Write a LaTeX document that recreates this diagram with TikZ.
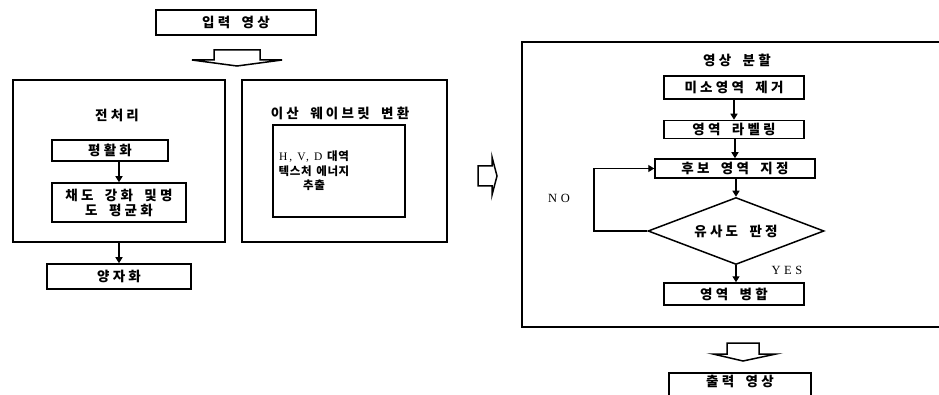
\documentclass[tikz,border=0pt]{standalone}
\usepackage{fontspec}
\setmainfont{Liberation Serif}
\newfontfamily\kr[LetterSpace=24,WordSpace=1.8]{Noto Sans CJK KR}
\newfontfamily\krs[LetterSpace=5,WordSpace=1.5]{Noto Sans CJK KR}
\newfontfamily\lat[LetterSpace=28]{Liberation Serif}
\newfontfamily\lats[LetterSpace=18]{Liberation Serif}
\usetikzlibrary{arrows.meta,shapes.geometric}
\begin{document}
\begin{tikzpicture}[x=1pt,y=-1pt,
  every node/.style={font=\kr\bfseries\fontsize{13.5}{15}\selectfont},
  box/.style={draw,line width=1.5pt,inner sep=0pt,align=center},
  frame/.style={draw,line width=1.5pt},
  link/.style={line width=1.4pt,-{Triangle[length=6pt,width=7pt]}},
  hollow/.style={draw,line width=1.5pt,line join=miter},
  latin/.style={font=\lat\fontsize{12.5}{14}\selectfont}]
\useasboundingbox (0,0) rectangle (939,395);
% input
\node[box,minimum width=160,minimum height=25] (in) at (236,22.5) {입력 영상};
\draw[hollow] (214,50) -- (260,50) -- (260,60) -- (282,60) -- (237,66) -- (192,60) -- (214,60) -- cycle;
% preprocessing
\node[box,minimum width=212,minimum height=162] (pre) at (119,161) {};
\node (pret) at (117,115) {전처리};
\node[box,minimum width=116,minimum height=21] (smooth) at (110,150.5) {평활화};
\node[box,minimum width=134,minimum height=39] (sat) at (119,202.5) {채도 강화 및명\\도 평균화};
\draw[link] (smooth.south -| sat) -- (sat.north);
\node[box,minimum width=144,minimum height=25] (quant) at (119,276.5) {양자화};
\draw[link] (pre.south -| quant) -- (quant.north);
% DWT
\node[box,minimum width=205,minimum height=162] (dwt) at (344.5,161) {};
\node (dwtt) at (340,113) {이산 웨이브릿 변환};
\node[box,minimum width=132,minimum height=92] (inner) at (339,171) {};
\node[align=center,font=\krs\bfseries\fontsize{11.5}{14.5}\selectfont] (tex) at (314,171) {{\lats\mdseries\fontsize{11.5}{14.5}\selectfont H, V, D} 대역\\텍스처 에너지\\추출};
% right hollow arrow
\draw[hollow] (478,166) -- (492,166) -- (492,157) -- (497,176) -- (492,195) -- (492,186) -- (478,186) -- cycle;
% segmentation frame (open at right)
\coordinate (segtr) at (939,42);
\coordinate (segtl) at (522,42);
\coordinate (segbl) at (522,327);
\coordinate (segbr) at (939,327);
\draw[frame] (segtr) -- (segtl) -- (segbl) -- (segbr);
\node (segt) at (737,60) {영상 분할};
\node[box,minimum width=140,minimum height=23] (small) at (734,87.5) {미소영역 제거};
\node[box,minimum width=140,minimum height=18] (label) at (734,129.5) {영역 라벨링};
\node[box,minimum width=160,minimum height=19] (cand) at (735,168.5) {후보 영역 지정};
\node[draw,line width=1.5pt,diamond,aspect=2.63,minimum width=176,minimum height=67,inner sep=0pt] (sim) at (736,231) {유사도 판정};
\node[box,minimum width=140,minimum height=22] (merge) at (734,294) {영역 병합};
\draw[link] (small.south -| label) -- (label.north);
\draw[link] (label.south -| cand) -- (cand.north);
\draw[link] (cand.south -| sim) -- (sim.north);
\draw[link] (sim.south) -- (sim.south |- merge.north);
\coordinate (loopb) at (594,231);
\coordinate (loopt) at (594,168.5);
\draw[link] (sim.west) -- (loopb) -- (loopt) -- (cand.west);
\node[latin] (no) at (559,198) {NO};
\node[latin] (yes) at (787,270) {YES};
% bottom hollow arrow
\draw[hollow] (727,343) -- (759,343) -- (759,354) -- (776,354) -- (743,361) -- (713,354) -- (727,354) -- cycle;
% output
\node[box,minimum width=142,minimum height=32] (out) at (740,389) {};
\node (outt) at (740,381) {출력 영상};
\end{tikzpicture}
\end{document}
